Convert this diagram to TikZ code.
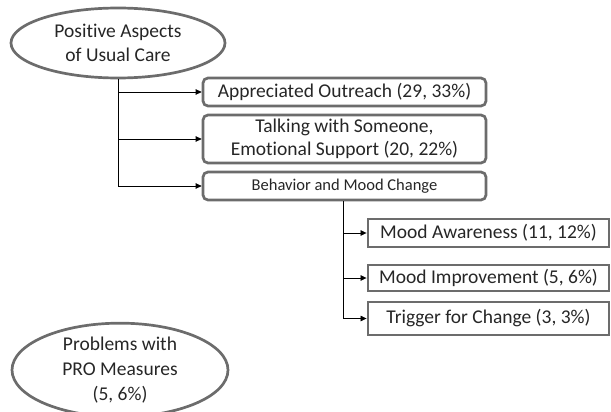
\documentclass[tikz,border=0pt]{standalone}
\usepackage{fontspec}
\setmainfont{Carlito}[Ligatures=NoCommon]
\usetikzlibrary{shapes.geometric,arrows.meta}
\begin{document}
\begin{tikzpicture}[x=1pt,y=-1pt,
  oval/.style={ellipse,draw=gray!85!black,line width=2.7pt,inner sep=0pt,align=center,font=\fontsize{19.5}{24}\selectfont,text=black!85},
  rbox/.style={draw=gray!85!black,line width=2.7pt,rounded corners=5pt,inner sep=0pt,align=center,text=black!85,font=\fontsize{19.5}{23}\selectfont},
  sbox/.style={draw=gray!85!black,line width=2.9pt,inner sep=0pt,align=center,text=black!85,font=\fontsize{19.5}{23}\selectfont},
  conn/.style={draw=black,line width=0.7pt,-{Triangle[length=6pt,width=5.5pt]}}]
\useasboundingbox (0,0) rectangle (611,412);
\node[oval,minimum width=214pt,minimum height=70pt] (e1) at (118,43) {Positive Aspects\\of Usual Care};
\node[rbox,minimum width=283pt,minimum height=28pt] (b1) at (344.5,92) {Appreciated Outreach (29, 33\%)};
\node[rbox,minimum width=283pt,minimum height=48pt] (b2) at (344.5,139) {Talking with Someone,\\Emotional Support (20, 22\%)};
\node[rbox,minimum width=283pt,minimum height=28pt,font=\fontsize{16.5}{19}\selectfont] (b3) at (344.5,186) {Behavior and Mood Change};
\node[sbox,minimum width=241pt,minimum height=28pt] (c1) at (488.5,233) {Mood Awareness (11, 12\%)};
\node[sbox,minimum width=241pt,minimum height=26pt] (c2) at (488.5,278) {Mood Improvement (5, 6\%)};
\node[sbox,minimum width=241pt,minimum height=33pt] (c3) at (488.5,318.5) {Trigger for Change (3, 3\%)};
\node[oval,minimum width=216pt,minimum height=84pt,font=\fontsize{19.5}{25}\selectfont] (e2) at (120,370) {Problems with\\PRO Measures\\(5, 6\%)};
\draw[conn] (e1.south) |- (b1.west);
\draw[conn] (e1.south) |- (b2.west);
\draw[conn] (e1.south) |- (b3.west);
\draw[conn] ([xshift=-1.5pt]b3.south) |- (c1.west);
\draw[conn] ([xshift=-1.5pt]b3.south) |- (c2.west);
\draw[conn] ([xshift=-1.5pt]b3.south) |- (c3.west);
\end{tikzpicture}
\end{document}
